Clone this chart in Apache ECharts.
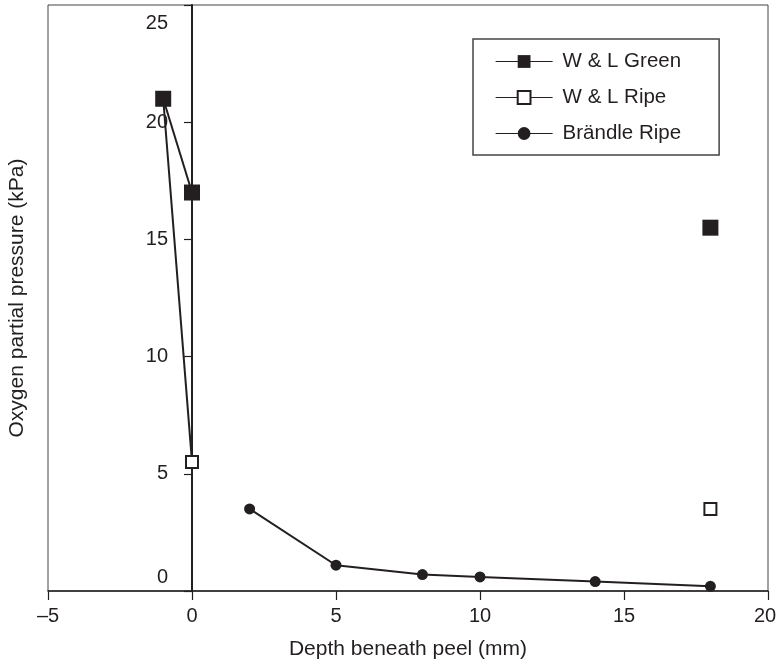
<!DOCTYPE html>
<html><head><meta charset="utf-8">
<script src="https://cdn.jsdelivr.net/npm/echarts@6/dist/echarts.min.js"></script>
<style>html,body{margin:0;padding:0;background:#fff}#c{width:777px;height:666px}</style>
</head><body><div id="c"></div>
<script>
// ---- data ----
const xTicks = [-5, 0, 5, 10, 15, 20];
const yTicks = [0, 5, 10, 15, 20, 25];
const seriesNames = ['W & L Green', 'W & L Ripe', 'Brändle Ripe'];
const xTitle = 'Depth beneath peel (mm)';
const yTitle = 'Oxygen partial pressure (kPa)';
// '-' breaks the line (isolated measurement at 18 mm)
const wlGreen = [[-1, 21], [0, 17], '-', [18, 15.5]];
const wlRipe = [[-1, 21], [0, 5.5], '-', [18, 3.5]];
const brandleX = [2, 5, 8, 10, 14, 18];
const brandleY = [3.5, 1.1, 0.7, 0.6, 0.4, 0.2];

const INK = '#231f20';
const FONT = "'Liberation Sans', Arial, Helvetica, sans-serif";

const chart = echarts.init(document.getElementById('c'), null, {renderer: 'canvas'});
const gridLeft = 48, gridRight = 9, chartW = 777;
const plotW = chartW - gridLeft - gridRight;
// pixel offset of the x = 0 line from the grid's left edge (layout only)
const yAxisShift = plotW * (0 - xTicks[0]) / (xTicks[xTicks.length - 1] - xTicks[0]);

chart.setOption({
  backgroundColor: '#fff',
  animation: false,
  textStyle: {fontFamily: FONT, color: INK},
  grid: {left: gridLeft, right: gridRight, top: 5, bottom: 75, show: true, borderColor: '#444', borderWidth: 1,
    containLabel: false, outerBoundsMode: 'none'},
  xAxis: {
    type: 'value', min: xTicks[0], max: xTicks[xTicks.length - 1], interval: 5,
    name: xTitle, nameLocation: 'middle', nameGap: 48,
    nameTextStyle: {fontSize: 21, color: INK, fontFamily: FONT},
    axisLine: {show: true, onZero: false, lineStyle: {color: INK, width: 1.5}},
    axisTick: {show: true, inside: false, length: 9, lineStyle: {color: INK, width: 1.2}},
    axisLabel: {margin: 15, fontSize: 20, color: INK, fontFamily: FONT,
      formatter: v => v === xTicks[xTicks.length - 1] ? '{r|' + v + '}' : (v < 0 ? '\u2013' + Math.abs(v) : String(v)),
      rich: {r: {fontSize: 20, color: INK, fontFamily: FONT, padding: [0, 6, 0, 0]}}
    },
    splitLine: {show: false}
  },
  yAxis: {
    type: 'value', min: yTicks[0], max: yTicks[yTicks.length - 1], interval: 5,
    position: 'left', offset: -yAxisShift,
    axisLine: {show: true, onZero: false, lineStyle: {color: INK, width: 2}},
    axisTick: {show: true, inside: false, length: 8, lineStyle: {color: INK, width: 1.2}},
    axisLabel: {
      margin: 24, fontSize: 20, color: INK, fontFamily: FONT,
      formatter: v => v === yTicks[0] ? '{lo|' + v + '}' : (v === yTicks[yTicks.length - 1] ? '{hi|' + v + '}' : String(v)),
      rich: {
        lo: {fontSize: 20, color: INK, fontFamily: FONT, padding: [0, 0, 28, 0]},
        hi: {fontSize: 20, color: INK, fontFamily: FONT, padding: [36, 0, 0, 0]}
      }
    },
    splitLine: {show: false}
  },
  legend: {
    orient: 'vertical', left: 473, top: 39,
    data: seriesNames,
    padding: [12, 38, 11, 22], itemGap: 15, itemWidth: 57, itemHeight: 16,
    borderColor: '#444', borderWidth: 1.5,
    lineStyle: {width: 1.2},
    textStyle: {fontSize: 20.5, lineHeight: 20, color: INK, fontFamily: FONT, padding: [0, 0, 0, 5]},
    selectedMode: false
  },
  graphic: [{
    type: 'text', x: 17, y: 298, rotation: Math.PI / 2,
    style: {text: yTitle, fontSize: 21, fill: INK, fontFamily: FONT, align: 'center', verticalAlign: 'middle'}
  }],
  series: [
    {
      name: seriesNames[1], type: 'line', data: wlRipe, connectNulls: false, z: 3,
      symbol: 'rect', symbolSize: 12,
      lineStyle: {color: INK, width: 2},
      itemStyle: {color: '#fff', borderColor: INK, borderWidth: 2}
    },
    {
      name: seriesNames[0], type: 'line', data: wlGreen, connectNulls: false, z: 4,
      symbol: 'rect', symbolSize: 16,
      lineStyle: {color: INK, width: 2},
      itemStyle: {color: INK, borderColor: INK, borderWidth: 0}
    },
    {
      name: seriesNames[2], type: 'line', data: brandleX.map((x, i) => [x, brandleY[i]]), z: 3,
      symbol: 'circle', symbolSize: 11,
      lineStyle: {color: INK, width: 2},
      itemStyle: {color: INK, borderWidth: 0}
    }
  ]
});
</script>
</body></html>
